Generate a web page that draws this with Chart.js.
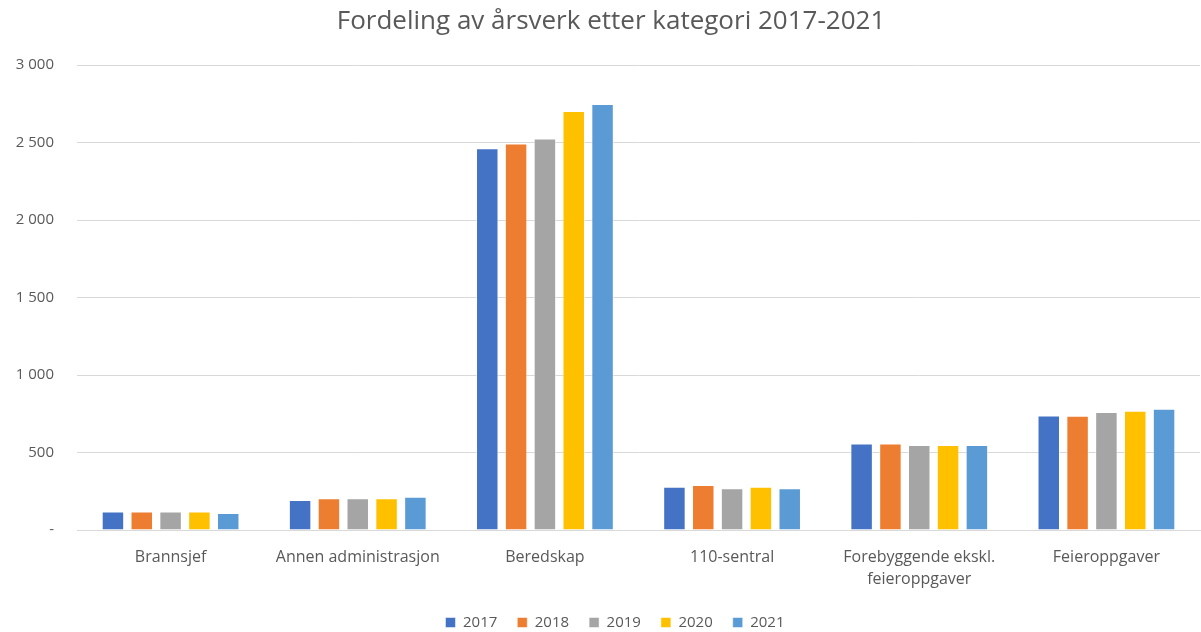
<!DOCTYPE html>
<html>
<head>
<meta charset="utf-8">
<script src="https://cdn.jsdelivr.net/npm/chart.js@4.4.1/dist/chart.umd.min.js"></script>
<style>
  html, body { margin: 0; padding: 0; background: #fff; }
  #wrap { width: 1201px; height: 632px; }
</style>
</head>
<body>
<div id="wrap"><canvas id="myChart" width="1201" height="632"></canvas></div>
<script>
const categories = [
    'Brannsjef',
    'Annen administrasjon',
    'Beredskap',
    '110-sentral',
    ['Forebyggende ekskl.', 'feieroppgaver'],
    'Feieroppgaver'
];
const years = ['2017', '2018', '2019', '2020', '2021'];

const values2017 = [120, 194, 2464, 279, 559, 739];
const values2018 = [120, 205, 2495, 290, 559, 737];
const values2019 = [120, 205, 2527, 269, 548, 761];
const values2020 = [120, 205, 2705, 279, 548, 770];
const values2021 = [109, 214, 2749, 269, 548, 783];

const yearColors = ['#4472C4', '#ED7D31', '#A5A5A5', '#FFC000', '#5B9BD5'];

const fontFamily = "'Open Sans', 'Noto Sans', sans-serif";
const textColor = '#595959';

function formatTick(value) {
    if (value === 0) return '-';
    return String(value).replace(/\B(?=(\d{3})+(?!\d))/g, ' ');
}

const seriesValues = [values2017, values2018, values2019, values2020, values2021];

const datasets = years.map((year, i) => ({
    label: year,
    data: seriesValues[i],
    backgroundColor: yearColors[i],
    borderColor: 'rgba(255,255,255,0.5)',
    borderWidth: 1,
    categoryPercentage: 0.77,
    barPercentage: 0.78
}));

// title and legend sit a little right of the canvas centre in the original
const nudgeBoxes = {
    id: 'nudgeBoxes',
    afterLayout(chart) {
        const t = chart.titleBlock;
        if (t) { t.left += 11; t.right += 11; }
        const l = chart.legend;
        if (l) { l.left += 15; l.right += 15; }
    }
};

const ctx = document.getElementById('myChart').getContext('2d');
const myChart = new Chart(ctx, {
    type: 'bar',
    data: {
        labels: categories,
        datasets: datasets
    },
    plugins: [nudgeBoxes],
    options: {
        responsive: false,
        animation: false,
        layout: {
            padding: { left: 0, right: 1, top: 0, bottom: -8 }
        },
        plugins: {
            title: {
                display: true,
                text: 'Fordeling av årsverk etter kategori 2017-2021',
                color: textColor,
                font: { family: fontFamily, size: 26, weight: 'normal' },
                padding: { top: 6, bottom: 28 }
            },
            legend: {
                position: 'bottom',
                labels: {
                    color: textColor,
                    font: { family: fontFamily, size: 15 },
                    boxWidth: 10,
                    boxHeight: 10,
                    padding: 20
                }
            },
            tooltip: { enabled: false }
        },
        scales: {
            x: {
                grid: { display: false, drawTicks: false },
                border: { display: true, color: '#D9D9D9', width: 1 },
                ticks: {
                    color: textColor,
                    font: { family: fontFamily, size: 16, lineHeight: 1.4 },
                    padding: 16,
                    maxRotation: 0,
                    autoSkip: false
                },
                afterFit: function (scale) {
                    scale.height = 65;
                }
            },
            y: {
                min: 0,
                max: 3000,
                grid: { color: '#D9D9D9', drawTicks: false },
                border: { display: false },
                ticks: {
                    stepSize: 500,
                    color: textColor,
                    font: { family: fontFamily, size: 15 },
                    padding: 23,
                    callback: formatTick
                },
                afterFit: function (scale) {
                    scale.width = 77;
                }
            }
        }
    }
});
</script>
</body>
</html>
